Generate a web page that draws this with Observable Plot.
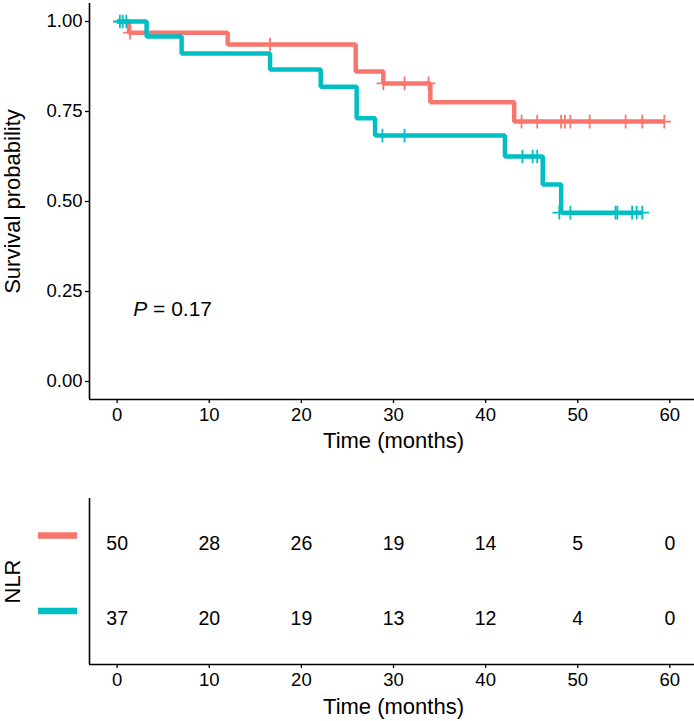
<!DOCTYPE html>
<html>
<head>
<meta charset="utf-8">
<script src="https://cdn.jsdelivr.net/npm/d3@7"></script>
<script src="https://cdn.jsdelivr.net/npm/@observablehq/plot@0.6"></script>
<style>
  html, body { margin: 0; padding: 0; background: #fff; }
  #chart svg { display: block; }
</style>
</head>
<body>
<div id="chart"></div>
<script>
// ---- data ----
const strata = ["Stratum 1", "Stratum 2"];
const strataColors = ["#F8766D", "#00BFC4"];

const time1 = [0, 1.3, 12.0, 25.9, 28.9, 34.0, 43.1, 59.4];
const surv1 = [1, 0.969, 0.936, 0.861, 0.828, 0.776, 0.722, 0.722];
const time2 = [0, 3.2, 7.0, 16.6, 22.1, 26.0, 28.0, 42.1, 46.2, 48.2, 57.0];
const surv2 = [1, 0.958, 0.911, 0.867, 0.819, 0.731, 0.683, 0.625, 0.547, 0.469, 0.469];

const censorTime1 = [1.4, 16.6, 28.9, 31.2, 33.8, 43.9, 45.6, 48.2, 48.6, 49.2, 51.3, 55.2, 57.0, 59.4];
const censorSurv1 = [0.969, 0.936, 0.828, 0.828, 0.828, 0.722, 0.722, 0.722, 0.722, 0.722, 0.722, 0.722, 0.722, 0.722];
const censorTime2 = [0.3, 0.6, 1.0, 28.8, 31.2, 44.0, 45.1, 45.6, 48.0, 49.2, 54.1, 54.3, 55.9, 56.4, 57.0];
const censorSurv2 = [1, 1, 1, 0.683, 0.683, 0.625, 0.625, 0.625, 0.469, 0.469, 0.469, 0.469, 0.469, 0.469, 0.469];

const xTicks = [0, 10, 20, 30, 40, 50, 60];
const yTicks = [0, 0.25, 0.5, 0.75, 1];

const riskTimes = [0, 10, 20, 30, 40, 50, 60];
const risk1 = [50, 28, 26, 19, 14, 5, 0];
const risk2 = [37, 20, 19, 13, 12, 4, 0];

const pValueText = "0.17";
const pValuePos = [1.8, 0.2];
const riskTitle = "NLR";

// ---- tables built from the arrays ----
const curves = [
  ...time1.map((t, i) => ({stratum: strata[0], time: t, surv: surv1[i]})),
  ...time2.map((t, i) => ({stratum: strata[1], time: t, surv: surv2[i]}))
];
const censors = [
  ...censorTime1.map((t, i) => ({stratum: strata[0], time: t, surv: censorSurv1[i]})),
  ...censorTime2.map((t, i) => ({stratum: strata[1], time: t, surv: censorSurv2[i]}))
];
const riskRows = [
  ...riskTimes.map((t, i) => ({stratum: strata[0], row: 2, time: t, n: risk1[i]})),
  ...riskTimes.map((t, i) => ({stratum: strata[1], row: 1, time: t, n: risk2[i]}))
];
const legendRows = [{stratum: strata[0], row: 2}, {stratum: strata[1], row: 1}];

const W = 694;
const FONT = "'Liberation Sans', Arial, sans-serif";
const colorOpts = {domain: strata, range: strataColors};
const xScale = {domain: [-3, 63]};
const TICK_FS = 18.5;
const TITLE_FS = 22;

// ---- survival plot ----
const survPlot = Plot.plot({
  width: W,
  height: 456,
  marginLeft: 89,
  marginRight: -3,
  marginTop: 3,
  marginBottom: 57,
  style: {fontFamily: FONT, color: "#000", background: "#fff"},
  x: xScale,
  y: {domain: [-0.05, 1.05]},
  color: colorOpts,
  marks: [
    Plot.axisY({ticks: yTicks, tickFormat: d3.format(".2f"), tickSize: 4, tickPadding: 3, fontSize: TICK_FS, label: null, stroke: "#000", strokeWidth: 1.3}),
    Plot.axisX({ticks: xTicks, tickSize: 4, tickPadding: 4, fontSize: TICK_FS, label: null, stroke: "#000", strokeWidth: 1.3}),
    Plot.ruleX([-3], {stroke: "#000", strokeWidth: 1.6}),
    Plot.ruleY([-0.05], {stroke: "#000", strokeWidth: 1.6}),
    Plot.line(curves, {x: "time", y: "surv", z: "stratum", stroke: "stratum", strokeWidth: 4.5, curve: "step-after", strokeLinejoin: "miter", strokeLinecap: "butt"}),
    Plot.dot(censors, {x: "time", y: "surv", stroke: "stratum", symbol: "plus", r: 4.5, strokeWidth: 1.8}),
    Plot.text(["Survival probability"], {frameAnchor: "left", textAnchor: "middle", lineAnchor: "middle", rotate: -90, dx: -77, text: d => d, fontSize: TITLE_FS, fill: "#000"}),
    Plot.text(["Time (months)"], {frameAnchor: "bottom", textAnchor: "middle", lineAnchor: "middle", dy: 41, text: d => d, fontSize: TITLE_FS, fill: "#000"})
  ]
});
// P value with italic P, placed through the scales
{
  const svg = d3.select(survPlot);
  const xs = survPlot.scale("x"), ys = survPlot.scale("y");
  const t = svg.append("text")
    .attr("x", xs.apply(pValuePos[0]))
    .attr("y", ys.apply(pValuePos[1]))
    .attr("dy", "0.35em")
    .attr("text-anchor", "start")
    .attr("font-size", 21)
    .attr("font-family", FONT)
    .attr("fill", "#000");
  t.append("tspan").attr("font-style", "italic").text("P");
  t.append("tspan").text(" = " + pValueText);
}

// ---- risk table ----
const riskPlot = Plot.plot({
  width: W,
  height: 265,
  marginLeft: 89,
  marginRight: -3,
  marginTop: 42,
  marginBottom: 57,
  style: {fontFamily: FONT, color: "#000", background: "#fff"},
  x: xScale,
  y: {domain: [0.4, 2.6], axis: null},
  color: colorOpts,
  marks: [
    Plot.axisX({ticks: xTicks, tickSize: 4, tickPadding: 4, fontSize: TICK_FS, label: null, stroke: "#000", strokeWidth: 1.3}),
    Plot.ruleX([-3], {stroke: "#000", strokeWidth: 1.6}),
    Plot.ruleY([0.4], {stroke: "#000", strokeWidth: 1.6}),
    Plot.text(riskRows, {x: "time", y: "row", text: d => String(d.n), fontSize: 19.5, fill: "#000"}),
    // legend keys drawn in the left margin from the y and color scales
    function (index, scales, values, dims) {
      const g = d3.create("svg:g");
      for (const d of legendRows) {
        g.append("rect")
          .attr("x", dims.marginLeft - 51)
          .attr("width", 39)
          .attr("y", scales.y(d.row) - 11)
          .attr("height", 6.5)
          .attr("fill", scales.color(d.stratum));
      }
      return g.node();
    },
    Plot.text([riskTitle], {frameAnchor: "left", textAnchor: "middle", lineAnchor: "middle", rotate: -90, dx: -77, text: d => d, fontSize: TITLE_FS, fill: "#000"}),
    Plot.text(["Time (months)"], {frameAnchor: "bottom", textAnchor: "middle", lineAnchor: "middle", dy: 42, text: d => d, fontSize: TITLE_FS, fill: "#000"})
  ]
});

document.getElementById("chart").append(survPlot, riskPlot);
</script>
</body>
</html>
